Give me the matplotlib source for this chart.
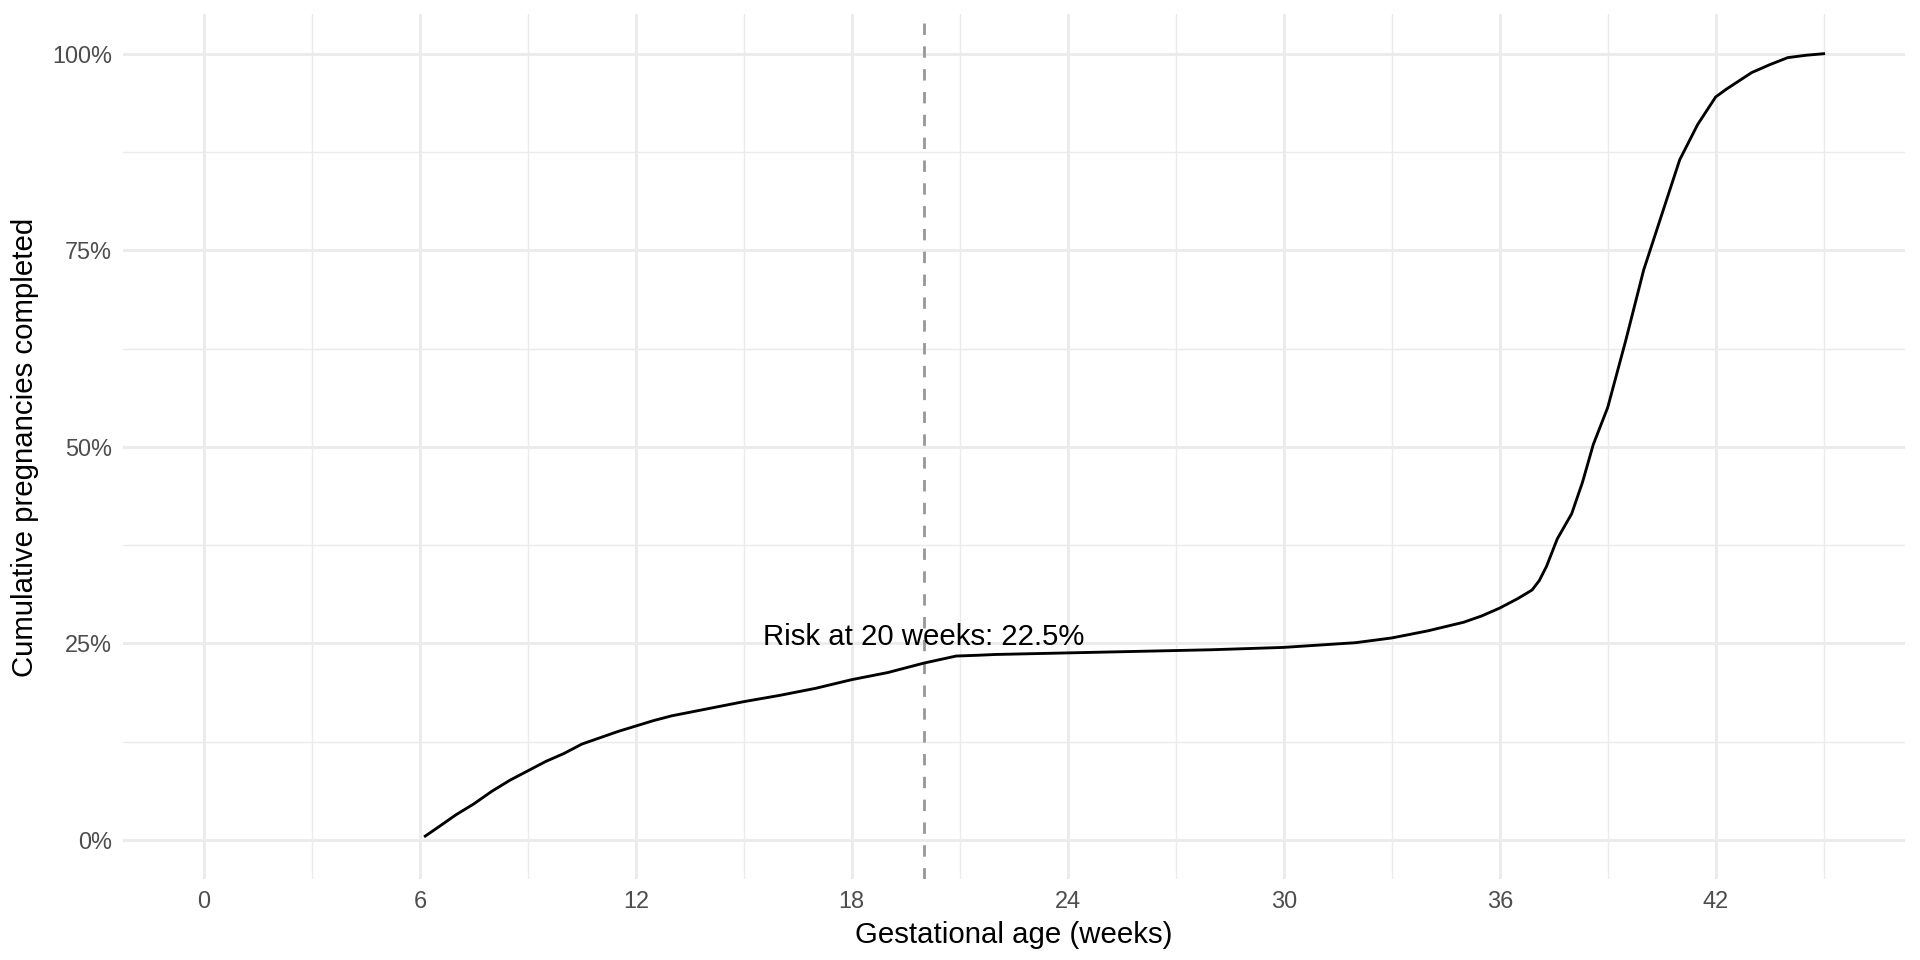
import numpy as np
import matplotlib
matplotlib.use('Agg')
import matplotlib.pyplot as plt
from matplotlib.ticker import FuncFormatter, MultipleLocator

plt.rcParams['font.family'] = ['Liberation Sans', 'DejaVu Sans']

# cumulative share of pregnancies completed by gestational age
weeks = [6.15, 6.5, 7.0, 7.5, 8.0, 8.5, 9.0, 9.5, 10.0, 10.5, 11.0, 11.5, 12.0,
         12.5, 13.0, 14.0, 15.0, 16.0, 17.0, 18.0, 19.0, 20.0, 20.5, 20.9, 21.5,
         22.0, 24.0, 26.0, 28.0, 30.0, 31.0, 32.0, 33.0, 34.0, 35.0, 35.5, 36.0,
         36.5, 36.9, 37.1, 37.3, 37.6, 38.0, 38.3, 38.6, 39.0, 39.5, 40.0, 40.5,
         41.0, 41.5, 42.0, 42.3, 42.6, 43.0, 43.5, 44.0, 44.5, 45.0]
cum_pct = [0.5, 1.6, 3.2, 4.6, 6.2, 7.6, 8.8, 10.0, 11.0, 12.2, 13.0, 13.8, 14.5,
           15.2, 15.8, 16.7, 17.6, 18.4, 19.3, 20.4, 21.3, 22.5, 23.0, 23.4, 23.5,
           23.6, 23.8, 24.0, 24.2, 24.5, 24.8, 25.1, 25.7, 26.6, 27.7, 28.5, 29.5,
           30.7, 31.8, 33.0, 34.8, 38.3, 41.5, 45.5, 50.3, 55.0, 63.5, 72.5, 79.5,
           86.5, 91.0, 94.5, 95.5, 96.4, 97.6, 98.6, 99.5, 99.8, 100.0]
cutoff = 20
risk = 22.5
x_limits = [0, 45]

fig = plt.figure(figsize=(10, 5), dpi=192)
ax = fig.add_axes([0.064, 0.084, 0.928, 0.901])

grey = '#EBEBEB'
ax.xaxis.set_major_locator(MultipleLocator(6))
ax.xaxis.set_minor_locator(MultipleLocator(3))
ax.yaxis.set_major_locator(MultipleLocator(0.25))
ax.yaxis.set_minor_locator(MultipleLocator(0.125))
ax.grid(which='major', color=grey, linewidth=1.07)
ax.grid(which='minor', color=grey, linewidth=0.53)
ax.set_axisbelow(True)
for s in ax.spines.values():
    s.set_visible(False)
ax.tick_params(which='both', length=0, labelsize=8.8, labelcolor='#4D4D4D', pad=4)

ax.plot(weeks, np.array(cum_pct) / 100, color='black', linewidth=1.07, zorder=3)
ax.axvline(cutoff, color='#999999', linestyle=(0, (4, 4)), linewidth=1.07, zorder=2)
ax.text(cutoff, risk / 100 + 0.015, 'Risk at 20 weeks: %.1f%%' % risk,
        ha='center', va='bottom', fontsize=11, color='black', zorder=4)

span = x_limits[1] - x_limits[0]
ax.set_xlim(x_limits[0] - 0.05 * span, x_limits[1] + 0.05 * span)
ax.set_ylim(-0.05, 1.05)
ax.yaxis.set_major_formatter(FuncFormatter(lambda v, p: '%d%%' % round(v * 100)))
ax.set_xlabel('Gestational age (weeks)', fontsize=11, labelpad=3)
ax.set_ylabel('Cumulative pregnancies completed', fontsize=11, labelpad=5)

fig.savefig('out.png', dpi=192, facecolor='white')
